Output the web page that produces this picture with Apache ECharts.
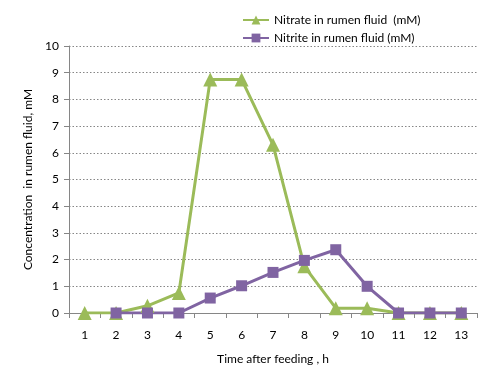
<!DOCTYPE html>
<html><head><meta charset="utf-8">
<script src="https://cdn.jsdelivr.net/npm/echarts@6/dist/echarts.min.js"></script>
<style>html,body{margin:0;padding:0;background:#fff}#c{width:492px;height:386px}</style>
</head><body><div id="c"></div>
<script>
const categories = ['1','2','3','4','5','6','7','8','9','10','11','12','13'];
const nitrate = [0, 0, 0.27, 0.75, 8.75, 8.75, 6.3, 1.75, 0.18, 0.18, 0, 0, 0];
const nitrite = [null, 0, 0, 0, 0.56, 1.02, 1.52, 1.97, 2.37, 1.0, 0, 0, 0];
const yTicks = {min: 0, max: 10, interval: 1};
const font = 'Lato, "Open Sans", sans-serif';
const chart = echarts.init(document.getElementById('c'));
chart.setOption({
  animation: false,
  textStyle: {fontFamily: font},
  grid: {left: 69, right: 15, top: 46, bottom: 73},
  legend: {
    orient: 'vertical', left: 237, top: 9, itemGap: 6, itemWidth: 26, itemHeight: 11,
    textStyle: {fontFamily: font, fontSize: 12, color: '#000'},
    data: ['Nitrate in rumen fluid  (mM)', 'Nitrite in rumen fluid (mM)']
  },
  xAxis: {
    type: 'category', data: categories, boundaryGap: true,
    name: 'Time after feeding , h', nameLocation: 'middle', nameGap: 40,
    nameTextStyle: {fontFamily: font, fontSize: 12, color: '#000'},
    axisLine: {lineStyle: {color: '#868686', width: 1}},
    axisTick: {show: true, alignWithLabel: false, length: 5, lineStyle: {color: '#868686'}},
    axisLabel: {color: '#000', fontSize: 12, margin: 16, fontFamily: font}
  },
  yAxis: {
    type: 'value', min: yTicks.min, max: yTicks.max, interval: yTicks.interval,
    name: 'Concentration  in rumen fluid, mM', nameLocation: 'middle', nameGap: 34,
    nameTextStyle: {fontFamily: font, fontSize: 12, color: '#000'},
    axisLine: {show: true, lineStyle: {color: '#868686', width: 1}},
    axisTick: {show: true, length: 5, lineStyle: {color: '#868686'}},
    axisLabel: {color: '#000', fontSize: 12, margin: 10, fontFamily: font},
    splitLine: {show: true, lineStyle: {color: '#868686', type: [1.5, 2], width: 1}}
  },
  series: [
    {
      name: 'Nitrate in rumen fluid  (mM)', type: 'line', data: nitrate,
      symbol: 'triangle', symbolSize: 14,
      lineStyle: {color: '#9BBB59', width: 3}, itemStyle: {color: '#9BBB59'}
    },
    {
      name: 'Nitrite in rumen fluid (mM)', type: 'line', data: nitrite,
      symbol: 'rect', symbolSize: 11,
      lineStyle: {color: '#8064A2', width: 3}, itemStyle: {color: '#8064A2'}
    }
  ]
});
</script></body></html>
